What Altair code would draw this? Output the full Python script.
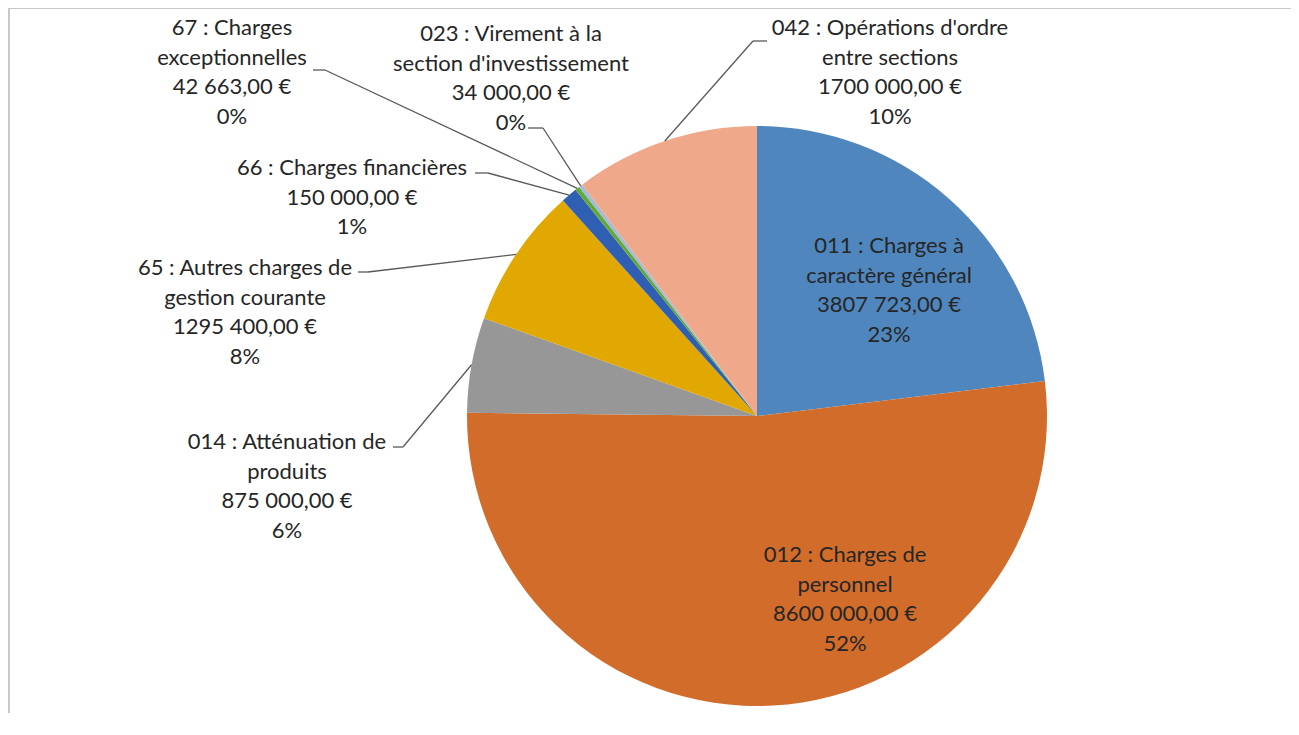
import altair as alt
import pandas as pd

# ---- data ----
codes = ["011", "012", "014", "65", "66", "67", "023", "042"]
names = [
    "011 : Charges à\ncaractère général",
    "012 : Charges de\npersonnel",
    "014 : Atténuation de\nproduits",
    "65 : Autres charges de\ngestion courante",
    "66 : Charges financières",
    "67 : Charges\nexceptionnelles",
    "023 : Virement à la\nsection d'investissement",
    "042 : Opérations d'ordre\nentre sections",
]
values = [3807723, 8600000, 875000, 1295400, 150000, 42663, 34000, 1700000]
pct_labels = ["23%", "52%", "6%", "8%", "1%", "0%", "0%", "10%"]
colors = ["#4F86BE", "#D26C2B", "#979797", "#E0A800", "#2F5FB3", "#65A83A", "#A3BBDA", "#EFA98A"]

# ---- layout (pixels in chart space) ----
W, H = 1283, 705
CX, CY, R = 749, 408, 290
label_x = [881, 837, 279, 237, 344, 224, 503, 882]
label_y = [238, 547, 434, 260, 160, 20, 26, 20]
has_leader = [False, False, True, True, True, True, True, True]
lead_sx = [0, 0, 385, 350, 467, 305, 520, 759]
lead_ex = [0, 0, 395, 360, 480, 317, 535, 745]
lead_y = [0, 0, 439, 264, 165, 62, 120, 33]


def fmt_eur(v):
    s = f"{v:,.2f}"
    intpart, dec = s.split(".")
    groups = intpart.split(",")
    if len(groups) > 2:
        groups = ["".join(groups[:2])] + groups[2:]
    return " ".join(groups) + "," + dec + " €"


df = pd.DataFrame({
    "code": codes,
    "ord": list(range(len(codes))),
    "value": values,
    "text": [f"{n}\n{fmt_eur(v)}\n{p}" for n, v, p in zip(names, values, pct_labels)],
    "lx": label_x,
    "ly": label_y,
    "lead": has_leader,
    "sx": lead_sx,
    "elx": lead_ex,
    "sy": lead_y,
})

base = alt.Chart(df)

pie = base.mark_arc(outerRadius=R).encode(
    theta=alt.Theta("value:Q", stack=True),
    color=alt.Color("code:N", scale=alt.Scale(domain=codes, range=colors), legend=None),
    order=alt.Order("ord:Q"),
    x=alt.value(CX),
    y=alt.value(CY),
)

leader_base = base.transform_joinaggregate(
    total="sum(value)"
).transform_window(
    cum="sum(value)", sort=[alt.SortField("ord")], frame=[None, 0]
).transform_calculate(
    mid="(datum.cum - datum.value/2) / datum.total * 2 * PI",
).transform_calculate(
    px=f"{CX} + {R} * sin(datum.mid)",
    py=f"{CY} - {R} * cos(datum.mid)",
).transform_filter("datum.lead")

xs = alt.Scale(domain=[0, W], range=[0, W])
ys = alt.Scale(domain=[0, H], range=[0, H])

seg1 = leader_base.mark_rule(color="#595959", strokeWidth=1.3).encode(
    x=alt.X("sx:Q", scale=xs, axis=None),
    x2="elx:Q",
    y=alt.Y("sy:Q", scale=ys, axis=None),
    y2="sy:Q",
)
seg2 = leader_base.mark_rule(color="#595959", strokeWidth=1.3).encode(
    x=alt.X("elx:Q", scale=xs, axis=None),
    x2="px:Q",
    y=alt.Y("sy:Q", scale=ys, axis=None),
    y2="py:Q",
)

labels = base.mark_text(
    font="Lato", fontSize=22, lineBreak="\n", lineHeight=29.5,
    align="center", baseline="middle", color="#262626",
).encode(
    x=alt.X("lx:Q", scale=xs, axis=None),
    y=alt.Y("ly:Q", scale=ys, axis=None),
    text="text:N",
)

frame_v = base.mark_rule(color="#c8c8c8", strokeWidth=2).encode(
    x=alt.value(1), y=alt.value(0), y2=alt.value(H)
)
frame_h = base.mark_rule(color="#c8c8c8", strokeWidth=2).encode(
    x=alt.value(1), x2=alt.value(W), y=alt.value(0)
)

chart = alt.layer(frame_v, frame_h, pie, seg1, seg2, labels).properties(
    width=W, height=H,
    autosize=alt.AutoSizeParams(type="none"),
    padding=0,
).configure_view(stroke=None).resolve_scale(x="shared", y="shared")

chart.save("out.html", embed_options={"renderer": "svg", "actions": False})
